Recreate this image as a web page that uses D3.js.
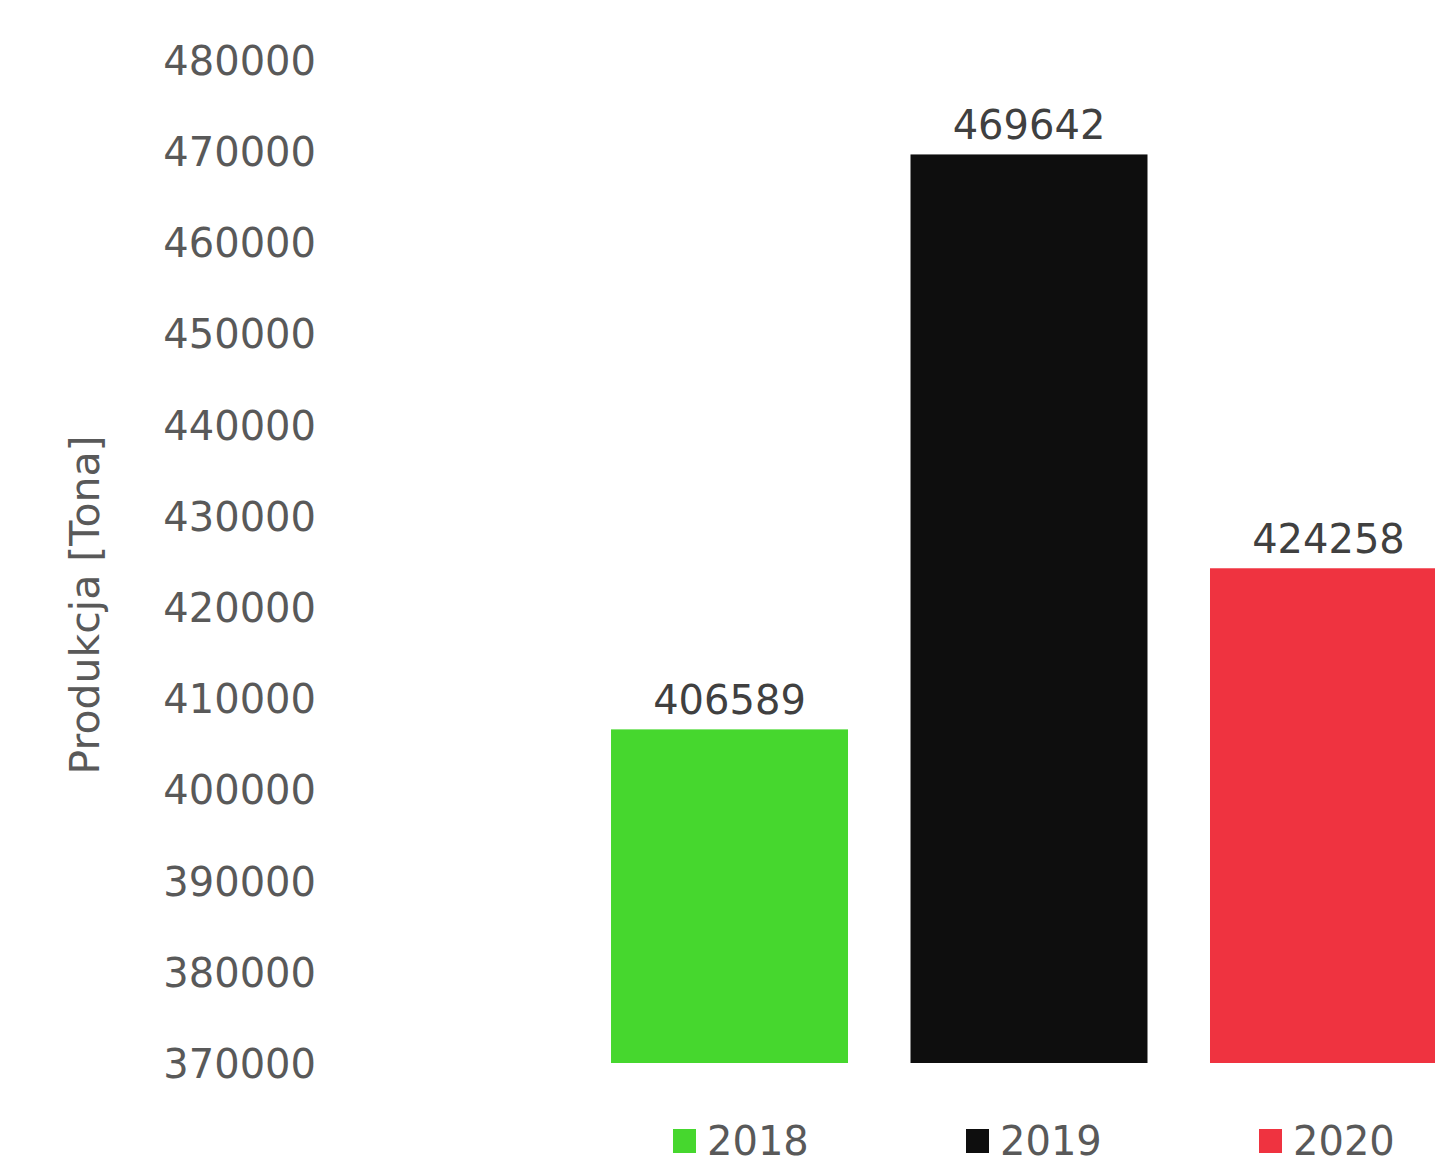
<!DOCTYPE html>
<html>
<head>
<meta charset="utf-8">
<script src="https://cdn.jsdelivr.net/npm/d3@7"></script>
<style>
  html, body { margin: 0; padding: 0; background: #ffffff; }
  svg { display: block; }
  text { font-family: "DejaVu Sans", Verdana, sans-serif; }
</style>
</head>
<body>
<svg id="chart" width="1435" height="1171"></svg>
<script>
// Production per year (tonnes)
const years = ["2018", "2019", "2020"];
const production = [406589, 469642, 424258];
const barColors = ["#46d72e", "#0e0e0e", "#ef3340"];
const yTicks = [370000, 380000, 390000, 400000, 410000, 420000, 430000, 440000, 450000, 460000, 470000, 480000];
const yTitle = "Produkcja [Tona]";

const svg = d3.select("#chart");

const y = d3.scaleLinear()
  .domain([370000, 480000])
  .range([1063, 60]);

const x = d3.scaleBand()
  .domain(years)
  .range([579.75, 1478.25])
  .paddingInner(0.2087)
  .paddingOuter(0.1044);

const color = d3.scaleOrdinal().domain(years).range(barColors);

// Y axis labels only (no line, no tick marks)
const yAxis = d3.axisLeft(y)
  .tickValues(yTicks)
  .tickFormat(d3.format("d"))
  .tickSize(0)
  .tickPadding(0);

const gy = svg.append("g")
  .attr("transform", "translate(316,0)")
  .call(yAxis);
gy.select(".domain").remove();
gy.selectAll("text")
  .attr("font-family", "DejaVu Sans, Verdana, sans-serif")
  .attr("font-size", 40)
  .attr("fill", "#595959")
  .attr("dy", "0.36em");

// Axis title
svg.append("text")
  .attr("transform", `translate(99,605) rotate(-90)`)
  .attr("text-anchor", "middle")
  .attr("font-size", 41)
  .attr("fill", "#595959")
  .text(yTitle);

const data = years.map((yr, i) => ({ year: yr, value: production[i] }));

// Bars
svg.append("g")
  .selectAll("rect")
  .data(data)
  .join("rect")
  .attr("x", d => x(d.year))
  .attr("y", d => y(d.value))
  .attr("width", x.bandwidth())
  .attr("height", d => y(370000) - y(d.value))
  .attr("fill", d => color(d.year));

// Value labels above bars
svg.append("g")
  .selectAll("text")
  .data(data)
  .join("text")
  .attr("x", d => x(d.year) + x.bandwidth() / 2)
  .attr("y", d => y(d.value) - 15)
  .attr("text-anchor", "middle")
  .attr("font-size", 40)
  .attr("fill", "#404040")
  .text(d => d.value);

// Legend
const legendX = [673, 966, 1259];
const legend = svg.append("g")
  .selectAll("g")
  .data(years)
  .join("g")
  .attr("transform", (d, i) => `translate(${legendX[i]},1129)`);
legend.append("rect")
  .attr("width", 23)
  .attr("height", 24)
  .attr("fill", d => color(d));
legend.append("text")
  .attr("x", 34)
  .attr("y", 26)
  .attr("font-size", 40)
  .attr("fill", "#595959")
  .text(d => d);
</script>
</body>
</html>
